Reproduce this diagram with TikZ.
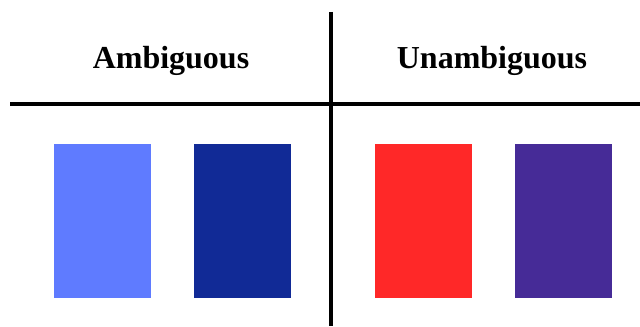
\documentclass[tikz,border=0pt]{standalone}
\usepackage{fontspec}
\setmainfont{Liberation Serif}
\usepackage{tikz}
\usetikzlibrary{positioning}
\definecolor{lightblue}{RGB}{95,123,255}
\definecolor{darkblue}{RGB}{17,42,150}
\definecolor{brightred}{RGB}{255,40,40}
\definecolor{deeppurple}{RGB}{70,43,151}
\tikzset{
  swatch/.style={rectangle, inner sep=0pt, minimum width=48.5pt, minimum height=77pt},
  heading/.style={font=\fontsize{16}{19}\selectfont\bfseries},
  divider/.style={line width=1.7pt}
}
\begin{document}
\begin{tikzpicture}[x=0.5pt, y=0.5pt]
  \useasboundingbox (0,0) rectangle (640,326);
  % table rules
  \draw[divider] (10,222) -- (640,222);
  \draw[divider] (331,314) -- (331,0);
  % column headings
  \node[heading] (amb) at (171,265) {Ambiguous};
  \node[heading] (unamb) at (492,265) {Unambiguous};
  % colour swatches
  \node[swatch, fill=lightblue] (sA) at (102.5,105) {};
  \node[swatch, fill=darkblue] (sB) at (242.5,105) {};
  \node[swatch, fill=brightred] (sC) at (423.5,105) {};
  \node[swatch, fill=deeppurple] (sD) at (563.5,105) {};
\end{tikzpicture}
\end{document}
